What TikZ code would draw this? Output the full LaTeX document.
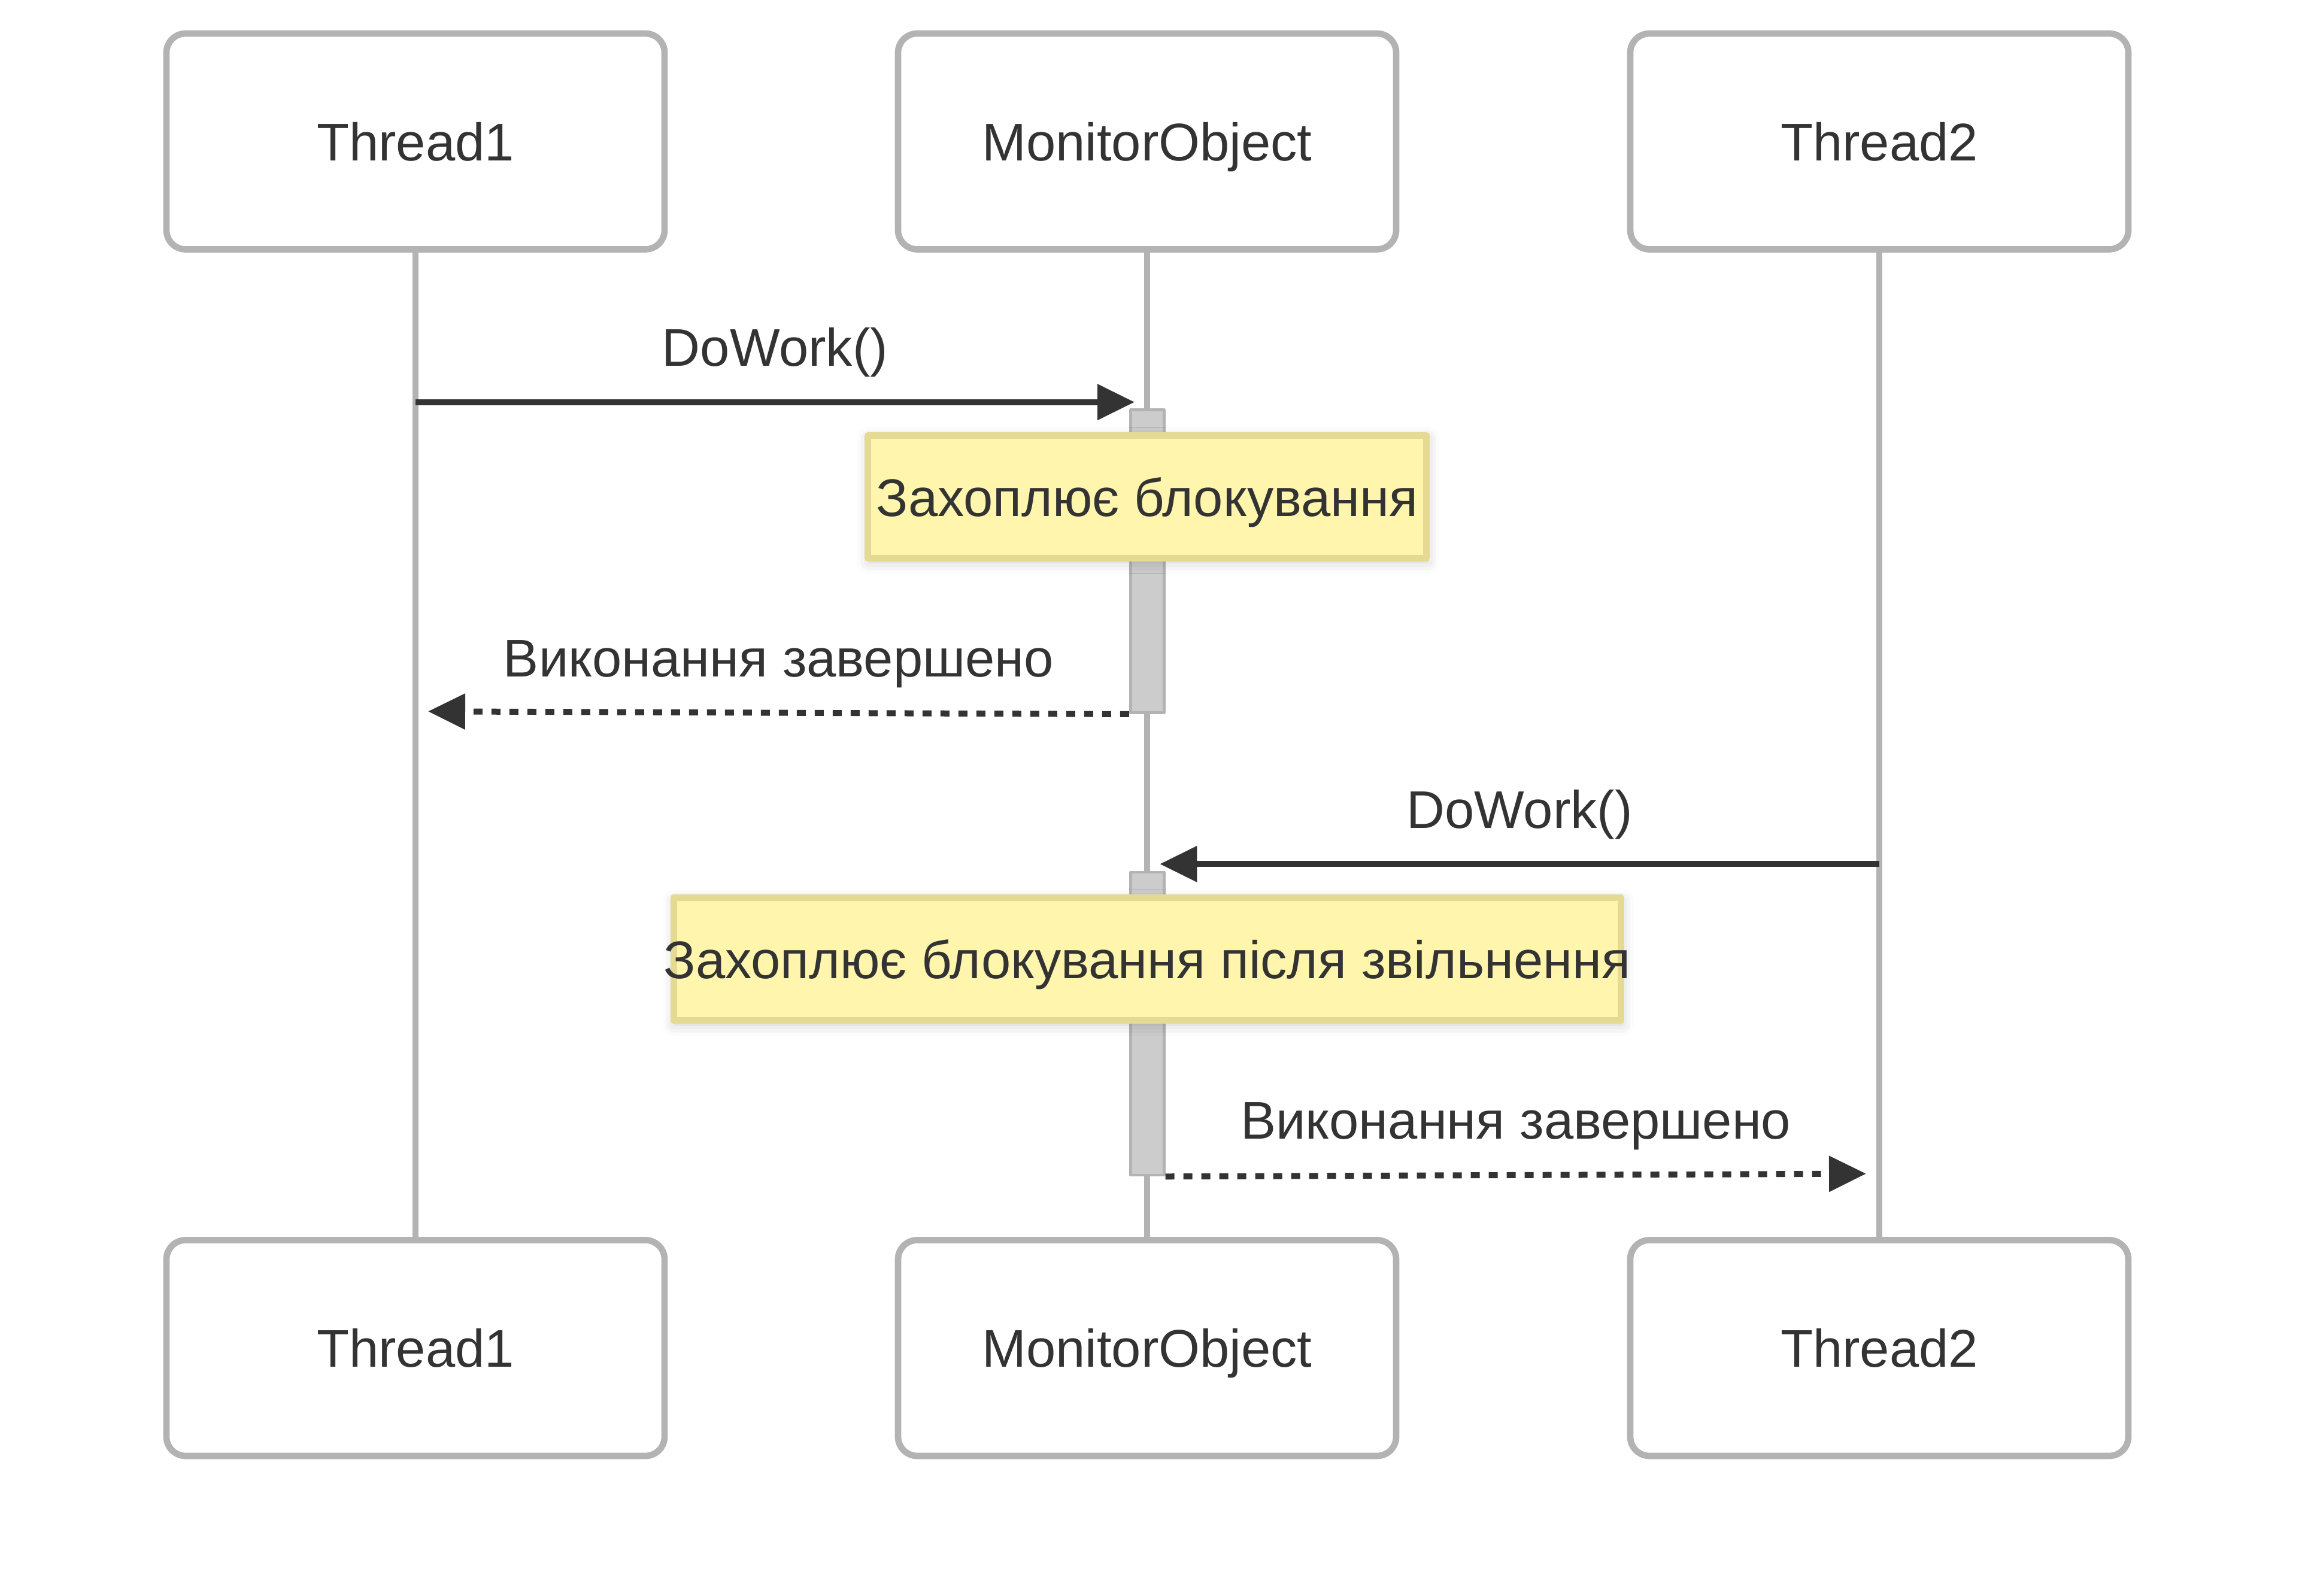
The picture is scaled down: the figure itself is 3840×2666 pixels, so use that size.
\documentclass[tikz,border=0pt]{standalone}
\usepackage{fontspec}
\setmainfont{Liberation Sans}
\usetikzlibrary{arrows.meta,shadows.blur}
\definecolor{boxline}{HTML}{B3B3B3}
\definecolor{ink}{HTML}{333333}
\definecolor{notefill}{HTML}{FFF5AD}
\definecolor{noteline}{HTML}{E4DA94}
\definecolor{actfill}{HTML}{CCCCCC}
\begin{document}
\begin{tikzpicture}[x=0.1mm,y=-0.1mm,>={Triangle[length=6.2mm,width=5.8mm]},line join=round,
		font=\fontsize{25.2}{30}\selectfont,text=ink,
		actor/.style={draw=boxline,line width=1.07mm,fill=white,rounded corners=3.2mm,minimum width=83.2mm,minimum height=36.05mm,inner sep=0pt,text depth=0pt},
		life/.style={draw=boxline,line width=1mm},
		actbar/.style={draw=boxline,fill=actfill,line width=0.47mm,minimum width=5.6mm,minimum height=50.6mm,inner sep=0pt,anchor=north},
		note/.style={draw=noteline,fill=notefill,line width=1.1mm,minimum height=20.5mm,inner sep=0pt,
			blur shadow={shadow xshift=0.2mm,shadow yshift=-0.6mm,shadow blur radius=2mm,shadow opacity=20}},
		notetext/.style={inner sep=0pt,text depth=0pt},
		msg/.style={draw=ink,line width=1mm,->},
		reply/.style={msg,dash pattern=on 1.5mm off 1.5mm},
		lbl/.style={midway,anchor=base,yshift=6mm}]
	\useasboundingbox (0,0) rectangle (3840,2666);
	% actors and lifelines
	\foreach \n/\t/\x in {ta/Thread1/694,mo/MonitorObject/1916,tb/Thread2/3139}{
		\node[actor] (\n-top) at (\x,236.25) {\t};
		\node[actor] (\n-bot) at (\x,2251.75) {\t};
		\draw[life] (\n-top) -- (\n-bot);
	}
	% activations
	\node[actbar] (act1) at (1916.3,682.3) {};
	\node[actbar] (act2) at (1916.3,1454.6) {};
	% notes (the text may run over the box)
	\node[note,minimum width=93.3mm] (lock1) at (1916,829.75) {};
	\node[notetext] (lock1-txt) at (lock1) {Захоплює блокування};
	\node[note,minimum width=158.2mm] (lock2) at (1916,1602.4) {};
	\node[notetext] (lock2-txt) at (lock2) {Захоплює блокування після звільнення};
	% messages
	\coordinate (call1-from) at (694,671.7);
	\coordinate (call1-to) at (1895,671.7);
	\coordinate (done1-to) at (715,1188.3);
	\coordinate (call2-from) at (3139,1443.3);
	\coordinate (call2-to) at (1937.3,1443.3);
	\coordinate (done2-to) at (3117,1960.6);
	\draw[msg] (call1-from) -- node[lbl] (call1) {DoWork()} (call1-to);
	\draw[reply] (act1.south west) -- node[lbl] (done1) {Виконання завершено} (done1-to);
	\draw[msg] (call2-from) -- node[lbl] (call2) {DoWork()} (call2-to);
	\draw[reply] (act2.south east) -- node[lbl] (done2) {Виконання завершено} (done2-to);
\end{tikzpicture}
\end{document}
